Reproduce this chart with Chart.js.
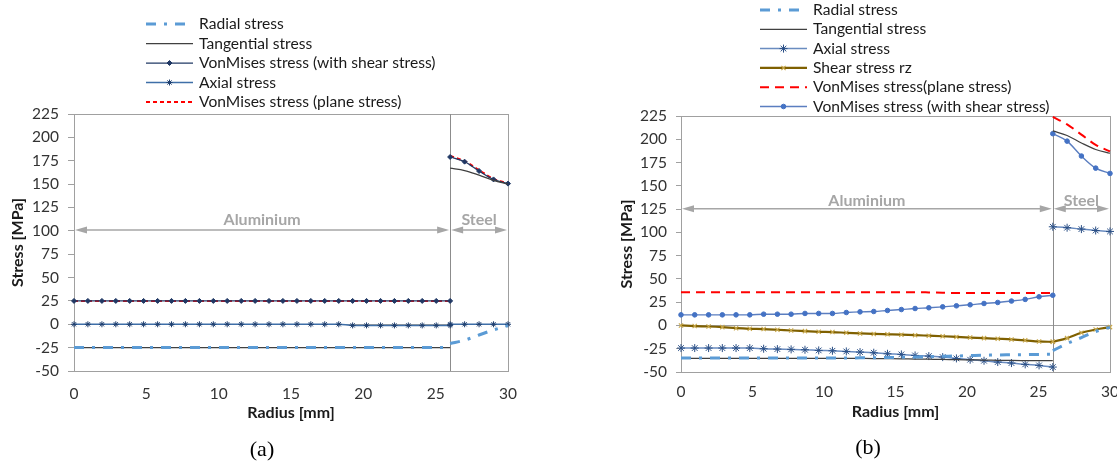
<!DOCTYPE html>
<html>
<head>
<meta charset="utf-8">
<title>Stress distribution along the radius</title>
<script src="https://cdn.jsdelivr.net/npm/chart.js@4.4.1/dist/chart.umd.min.js"></script>
<style>
  html, body { margin: 0; padding: 0; background: #fff; }
  body { width: 1117px; height: 468px; position: relative; overflow: hidden; }
  canvas { position: absolute; top: 0; }
  #chartA { left: 0; }
  #chartB { left: 558px; }
  .caption {
    position: absolute;
    font: 22px "Liberation Serif", "Times New Roman", serif;
    color: #000;
    transform: translate(-50%, -50%);
  }
</style>
</head>
<body>
<canvas id="chartA" width="558" height="468"></canvas>
<canvas id="chartB" width="559" height="468"></canvas>
<div class="caption" style="left:262px; top:449px">(a)</div>
<div class="caption" style="left:868px; top:447px">(b)</div>
<script>
// Node radii [mm]: aluminium core (28 nodes) and steel ring (5 nodes)
const alRadius = [0, 0.96, 1.93, 2.89, 3.85, 4.81, 5.78, 6.74, 7.70, 8.67, 9.63, 10.59, 11.56, 12.52,
                  13.48, 14.44, 15.41, 16.37, 17.33, 18.30, 19.26, 20.22, 21.19, 22.15, 23.11, 24.07, 25.04, 26];
const stRadius = [26, 27, 28, 29, 30];

// Material zones along the radius
const zoneBounds = [0, 26, 30];
const zoneNames = ["Aluminium", "Steel"];

const xTicks = [0, 5, 10, 15, 20, 25, 30];
const yTicks = [-50, -25, 0, 25, 50, 75, 100, 125, 150, 175, 200, 225];

// (a) stresses [MPa]
const aRadialAl = [-24.8, -24.8, -24.8, -24.8, -24.8, -24.8, -24.8, -24.8, -24.8, -24.8, -24.8, -24.8, -24.8, -24.8,
                   -24.8, -24.8, -24.8, -24.8, -24.8, -24.8, -24.8, -24.8, -24.8, -24.8, -24.8, -24.8, -24.8, -24.8];
const aRadialSt = [-20.6, -17, -11.5, -6, -1.5];
const aTangAl = [-25, -25, -25, -25, -25, -25, -25, -25, -25, -25, -25, -25, -25, -25,
                 -25, -25, -25, -25, -25, -25, -25, -25, -25, -25, -25, -25, -25, -25];
const aTangSt = [167, 164.5, 159.5, 154, 150];
const aVmShearAl = [25, 25, 25, 25, 25, 25, 25, 25, 25, 25, 25, 25, 25, 25,
                    25, 25, 25, 25, 25, 25, 25, 25, 25, 25, 25, 25, 25, 25];
const aVmShearSt = [179, 174, 164, 155, 150.5];
const aAxialAl = [0, 0, 0, 0, 0, 0, 0, 0, 0, 0, 0, 0, 0, 0,
                  0, 0, 0, 0, 0, 0, -1.2, -1.2, -1.2, -1.2, -1.2, -1.2, -1.2, -1.2];
const aAxialSt = [0, 0, 0, 0, 0];
const aVmPlaneAl = [25, 25, 25, 25, 25, 25, 25, 25, 25, 25, 25, 25, 25, 25,
                    25, 25, 25, 25, 25, 25, 25, 25, 25, 25, 25, 25, 25, 25];
const aVmPlaneSt = [180, 174.5, 165, 155.5, 151];

// (b) stresses [MPa]
const bRadialAl = [-35, -35, -35, -35, -35, -35, -35, -35, -35, -35, -35, -35, -35, -34.8,
                   -34.6, -34.4, -34.2, -34, -33.6, -33.2, -32.8, -32.4, -32, -31.7, -31.5, -31.3, -31.1, -31];
const bRadialSt = [-27, -19.5, -13, -6.5, -2];
const bTangAl = [-35.3, -35.3, -35.3, -35.3, -35.3, -35.3, -35.3, -35.3, -35.3, -35.3, -35.3, -35.3, -35.3, -35.4,
                 -35.5, -35.7, -35.9, -36.1, -36.3, -36.5, -36.8, -37, -37.2, -37.4, -37.6, -37.7, -37.8, -37.9];
const bTangSt = [209, 204, 196, 189, 185];
const bAxialAl = [-24.3, -24.3, -24.3, -24.3, -24.3, -24.3, -25, -25.4, -25.7, -26.1, -26.8, -27.2, -27.9, -28.6,
                  -29.3, -30.4, -31.1, -32.2, -32.9, -34, -35.4, -36.8, -37.9, -39.3, -40.4, -41.8, -42.9, -44.7];
const bAxialSt = [106, 105, 103.5, 102, 101];
const bShearAl = [0, -0.7, -1.1, -1.8, -2.9, -3.6, -3.9, -4.6, -5.4, -6.1, -6.8, -7.1, -7.9, -8.6,
                  -9.1, -9.5, -9.9, -10.4, -11, -11.6, -12.3, -13, -13.6, -14.3, -15, -16, -17.2, -17.6];
const bShearSt = [-17.6, -13.6, -7.9, -4.3, -1.8];
const bVmPlaneAl = [35.7, 35.7, 35.7, 35.7, 35.7, 35.7, 35.7, 35.7, 35.7, 35.7, 35.7, 35.7, 35.7, 35.7,
                    35.7, 35.7, 35.7, 35.7, 35.5, 35.2, 34.8, 34.8, 34.8, 34.8, 34.8, 34.8, 34.8, 34.8];
const bVmPlaneSt = [224, 216, 205, 194, 187];
const bVmShearAl = [11.4, 11.4, 11.4, 11.4, 11.4, 11.4, 12.1, 12.1, 12.1, 12.9, 12.9, 12.9, 13.9, 14.6,
                    15, 16.1, 17.1, 18.2, 19, 20, 21.1, 22.2, 23.6, 24.7, 26.2, 28, 30.8, 32.4];
const bVmShearSt = [206, 198, 182, 169, 163.3];

const FONT = "Lato, 'Open Sans', sans-serif";
const BORDER_GREY = "#a0a0a0";

// aluminium and steel results are separate curves; a null point breaks the line at the interface
function joinSegments(alValues, stValues) {
  const pts = alRadius.map((r, i) => ({ x: r, y: alValues[i] }));
  pts.push({ x: zoneBounds[1], y: null });
  stRadius.forEach((r, i) => pts.push({ x: r, y: stValues[i] }));
  return pts;
}

// common look of one series
function series(label, data, style) {
  return Object.assign({
    label: label,
    data: data,
    borderWidth: 1.25,
    borderDash: [],
    pointRadius: 0,
    pointHoverRadius: 0,
    pointBorderWidth: 1,
    cubicInterpolationMode: "monotone",
    clip: 10
  }, style);
}

const radialStyle = { borderColor: "#5B9BD5", borderWidth: 3, borderDash: [10, 8, 3, 8] };
const tangStyle = { borderColor: "#404040", borderWidth: 1.25 };

// vertical legend list above the plot, drawn from each dataset's own styling
const stackedLegend = {
  id: "stackedLegend",
  afterDraw(chart, args, opts) {
    const ctx = chart.ctx;
    ctx.save();
    chart.data.datasets.forEach((ds, i) => {
      const y = opts.y + i * opts.rowHeight;
      const x0 = opts.x, x1 = opts.x + opts.sampleWidth;
      ctx.strokeStyle = ds.borderColor;
      ctx.lineWidth = ds.borderWidth;
      ctx.setLineDash(ds.borderDash || []);
      ctx.beginPath();
      ctx.moveTo(x0, y);
      ctx.lineTo(x1, y);
      ctx.stroke();
      ctx.setLineDash([]);
      if (ds.pointRadius > 0) {
        ctx.fillStyle = ds.pointBackgroundColor;
        ctx.strokeStyle = ds.pointBorderColor;
        ctx.lineWidth = ds.pointBorderWidth;
        Chart.helpers.drawPoint(ctx, {
          pointStyle: ds.pointStyle, rotation: 0,
          radius: ds.pointRadius, borderWidth: ds.pointBorderWidth
        }, (x0 + x1) / 2, y);
      }
      ctx.fillStyle = "#1a1a1a";
      ctx.font = opts.font;
      ctx.textBaseline = "middle";
      ctx.textAlign = "left";
      ctx.fillText(ds.label, x1 + opts.gap, y);
    });
    ctx.restore();
  }
};

// plot frame, aluminium/steel interface and the zone arrows
const zoneMarks = {
  id: "zoneMarks",
  beforeDatasetsDraw(chart, args, opts) {
    const { ctx, chartArea: ca, scales: { x, y } } = chart;
    ctx.save();
    ctx.strokeStyle = BORDER_GREY;
    ctx.lineWidth = 1;
    ctx.strokeRect(Math.round(ca.left) + 0.5, Math.round(ca.top) + 0.5,
                   Math.round(ca.right - ca.left), Math.round(ca.bottom - ca.top));
    const xi = Math.round(x.getPixelForValue(zoneBounds[1])) + 0.5;
    ctx.strokeStyle = "#8c8c8c";
    ctx.beginPath();
    ctx.moveTo(xi, ca.top);
    ctx.lineTo(xi, ca.bottom);
    ctx.stroke();

    const yy = y.getPixelForValue(opts.level);
    ctx.strokeStyle = "#a6a6a6";
    ctx.fillStyle = "#a6a6a6";
    ctx.lineWidth = 1.5;
    ctx.font = "bold 16px " + FONT;
    ctx.textAlign = "center";
    ctx.textBaseline = "middle";
    for (let i = 0; i < zoneNames.length; i++) {
      const xa = x.getPixelForValue(zoneBounds[i]) + 1;
      const xb = x.getPixelForValue(zoneBounds[i + 1]) - 1;
      ctx.beginPath();
      ctx.moveTo(xa + 6, yy);
      ctx.lineTo(xb - 6, yy);
      ctx.stroke();
      ctx.beginPath();
      ctx.moveTo(xa, yy); ctx.lineTo(xa + 12, yy - 3.5); ctx.lineTo(xa + 12, yy + 3.5); ctx.closePath();
      ctx.moveTo(xb, yy); ctx.lineTo(xb - 12, yy - 3.5); ctx.lineTo(xb - 12, yy + 3.5); ctx.closePath();
      ctx.fill();
      ctx.fillText(zoneNames[i], (xa + xb) / 2, yy - opts.textOffset);
    }
    ctx.restore();
  }
};

function makeScales(g) {
  return {
    x: {
      type: "linear", min: xTicks[0], max: xTicks[xTicks.length - 1],
      afterBuildTicks: s => { s.ticks = xTicks.map(v => ({ value: v })); },
      ticks: { padding: g.xTickPad, color: "#333", font: { family: FONT, size: 15.5 } },
      grid: { display: false, drawTicks: false },
      border: { display: false },
      title: {
        display: true, text: "Radius [mm]", color: "#1a1a1a",
        font: { family: FONT, size: 16, weight: "bold" }, padding: { top: 0, bottom: g.xTitlePad }
      },
      afterFit: s => { s.height = 60; s.paddingLeft = 0; s.paddingRight = 0; }
    },
    y: {
      type: "linear", min: yTicks[0], max: yTicks[yTicks.length - 1],
      afterBuildTicks: s => { s.ticks = yTicks.map(v => ({ value: v })); },
      ticks: { padding: 9, color: "#333", font: { family: FONT, size: 15.5 } },
      grid: {
        drawOnChartArea: true,
        color: c => (c.tick && c.tick.value === 0 ? BORDER_GREY : "rgba(0,0,0,0)"),
        tickColor: BORDER_GREY, tickLength: g.tickLen
      },
      border: { display: false },
      title: {
        display: true, text: "Stress [MPa]", color: "#1a1a1a",
        font: { family: FONT, size: 16, weight: "bold" }, padding: { top: g.yTitlePad, bottom: 0 }
      },
      afterFit: s => { s.width = g.yWidth; s.paddingTop = 0; s.paddingBottom = 0; }
    }
  };
}

function makeChart(id, datasets, g) {
  return new Chart(document.getElementById(id), {
    type: "line",
    data: { datasets: datasets },
    options: {
      responsive: false,
      animation: false,
      events: [],
      layout: { padding: g.padding },
      scales: makeScales(g),
      plugins: {
        legend: { display: false },
        tooltip: { enabled: false },
        stackedLegend: g.legend,
        zoneMarks: { level: g.zoneLevel, textOffset: g.zoneTextOffset }
      }
    },
    plugins: [zoneMarks, stackedLegend]
  });
}

makeChart("chartA", [
  series("Radial stress", joinSegments(aRadialAl, aRadialSt), radialStyle),
  series("Tangential stress", joinSegments(aTangAl, aTangSt), tangStyle),
  series("VonMises stress (with shear stress)", joinSegments(aVmShearAl, aVmShearSt), {
    borderColor: "#203864", borderWidth: 1.25,
    pointStyle: "rectRot", pointRadius: 2.5,
    pointBackgroundColor: "#203864", pointBorderColor: "#203864"
  }),
  series("Axial stress", joinSegments(aAxialAl, aAxialSt), {
    borderColor: "#3F6FA8", borderWidth: 1.5,
    pointStyle: "star", pointRadius: 3, pointBorderWidth: 1,
    pointBackgroundColor: "#1F3F6F", pointBorderColor: "#1F3F6F"
  }),
  series("VonMises stress (plane stress)", joinSegments(aVmPlaneAl, aVmPlaneSt), {
    borderColor: "#FF0000", borderWidth: 2, borderDash: [4, 3]
  })
], {
  padding: { left: 0, right: 50, top: 114, bottom: 37 },
  yWidth: 74, tickLen: 6, yTitlePad: 8, xTickPad: 14, xTitlePad: 9,
  zoneLevel: 101, zoneTextOffset: 10,
  legend: { x: 146, y: 24, rowHeight: 19.5, sampleWidth: 47, gap: 6, font: "15.6px " + FONT }
});

makeChart("chartB", [
  series("Radial stress", joinSegments(bRadialAl, bRadialSt), radialStyle),
  series("Tangential stress", joinSegments(bTangAl, bTangSt), tangStyle),
  series("Axial stress", joinSegments(bAxialAl, bAxialSt), {
    borderColor: "#6A8CC0", borderWidth: 1.5,
    pointStyle: "star", pointRadius: 4, pointBorderWidth: 1,
    pointBackgroundColor: "#2A4F86", pointBorderColor: "#2A4F86"
  }),
  series("Shear stress rz", joinSegments(bShearAl, bShearSt), {
    borderColor: "#7F6000", borderWidth: 2.2,
    pointStyle: "crossRot", pointRadius: 3, pointBorderWidth: 1.1,
    pointBackgroundColor: "#C8A84B", pointBorderColor: "#C8A84B"
  }),
  series("VonMises stress(plane stress)", joinSegments(bVmPlaneAl, bVmPlaneSt), {
    borderColor: "#FF0000", borderWidth: 2, borderDash: [9, 6]
  }),
  series("VonMises stress (with shear stress)", joinSegments(bVmShearAl, bVmShearSt), {
    borderColor: "#5B7EC0", borderWidth: 1.4,
    pointStyle: "circle", pointRadius: 2.3,
    pointBackgroundColor: "#4472C4", pointBorderColor: "#4472C4"
  })
], {
  padding: { left: 52, right: 7, top: 116, bottom: 36 },
  yWidth: 71, tickLen: 5, yTitlePad: 7, xTickPad: 11, xTitlePad: 11,
  zoneLevel: 125.5, zoneTextOffset: 8,
  legend: { x: 202, y: 10, rowHeight: 19.3, sampleWidth: 47, gap: 6, font: "15.6px " + FONT }
});
</script>
</body>
</html>
